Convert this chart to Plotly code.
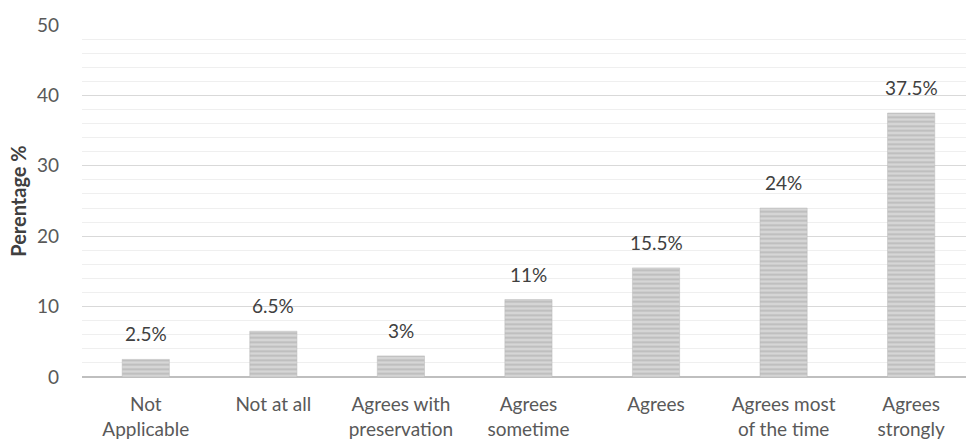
import plotly.graph_objects as go

# Response categories and their share of respondents (%)
categories = [
    "Not<br>Applicable",
    "Not at all",
    "Agrees with<br>preservation",
    "Agrees<br>sometime",
    "Agrees",
    "Agrees most<br>of the time",
    "Agrees<br>strongly",
]
percentages = [2.5, 6.5, 3, 11, 15.5, 24, 37.5]
value_labels = ["2.5%", "6.5%", "3%", "11%", "15.5%", "24%", "37.5%"]

y_ticks = [0, 10, 20, 30, 40, 50]

font_family = "Lato, 'Open Sans', sans-serif"
text_color = "#595959"

fig = go.Figure()
fig.add_trace(
    go.Bar(
        x=categories,
        y=percentages,
        marker=dict(
            color="#c9c9c9",
            line=dict(color="#b8b8b8", width=0.5),
            pattern=dict(shape="-", fgcolor="#a0a0a0", bgcolor="#d6d6d6",
                         size=4.5, solidity=0.4),
        ),
        hoverinfo="x+y",
    )
)

# Value labels above each bar
for cat, val, lab in zip(categories, percentages, value_labels):
    fig.add_annotation(
        x=cat, y=val, text=lab, showarrow=False,
        yanchor="bottom", yshift=12,
        font=dict(family=font_family, size=19, color="#404040"),
    )

fig.update_layout(
    width=966,
    height=447,
    margin=dict(l=82, r=0, t=25, b=70),
    paper_bgcolor="white",
    plot_bgcolor="white",
    bargap=0.63,
    showlegend=False,
    font=dict(family=font_family, size=19, color=text_color),
    xaxis=dict(
        range=[-0.5, 6.43],
        showgrid=False,
        showline=False,
        ticks="",
        tickfont=dict(family=font_family, size=19, color=text_color),
        ticklabelstandoff=14,
    ),
    yaxis=dict(
        range=[0, 50],
        tickvals=y_ticks,
        showgrid=True,
        gridcolor="#d9d9d9",
        gridwidth=1,
        zeroline=True,
        zerolinecolor="#bfbfbf",
        zerolinewidth=2,
        ticks="",
        ticklabelstandoff=22,
        tickfont=dict(family=font_family, size=19, color=text_color),
        minor=dict(dtick=2, showgrid=True, gridcolor="#efefef", gridwidth=1),
        title=dict(
            text="<b>Perentage %</b>",
            font=dict(family=font_family, size=20, color="#404040"),
            standoff=4,
        ),
    ),
)

fig.write_html("out.html")
